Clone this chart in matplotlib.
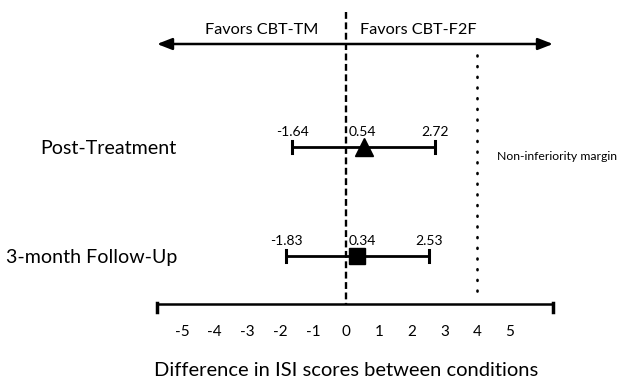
import matplotlib
matplotlib.use("Agg")
import matplotlib.pyplot as plt

# Data
rows = ["Post-Treatment", "3-month Follow-Up"]
means = [0.54, 0.34]
lower = [-1.64, -1.83]
upper = [2.72, 2.53]
markers = ["^", "s"]
ticks = [-5, -4, -3, -2, -1, 0, 1, 2, 3, 4, 5]
margin = 4
favor_labels = ["Favors CBT-TM", "Favors CBT-F2F"]
xlabel = "Difference in ISI scores between conditions"
margin_label = "Non-inferiority margin"

plt.rcParams['font.family'] = ['Lato', 'DejaVu Sans']

W, H = 628, 382
fig = plt.figure(figsize=(W / 100, H / 100), dpi=100)
ax = fig.add_axes([0, 0, 1, 1])
ppu = 32.8
x0 = 346
ax.set_xlim(-x0 / ppu, (W - x0) / ppu)
ax.set_ylim(H, 0)  # y in pixel-like units, top = 0
ax.axis("off")

row_y = [147, 256]
axis_y = 304
arrow_y = 44
xmin, xmax = (157 - x0) / ppu, (553 - x0) / ppu

# zero dashed line
ax.plot([0, 0], [12, axis_y], color="black", lw=1.7, ls=(0, (2.9, 1.5)))
# non-inferiority dotted line
ax.plot([margin, margin], [55, axis_y - 6], color="black", lw=1.9, ls=(0, (0.35, 3.7)),
        dash_capstyle="round")

# top double arrow
ax.annotate("", xy=(xmin, arrow_y), xytext=(xmax, arrow_y),
            arrowprops=dict(arrowstyle="<|-|>,head_length=0.9,head_width=0.35",
                            color="black", lw=1.8, shrinkA=0, shrinkB=0))
ax.text((262 - x0) / ppu, 37, favor_labels[0], ha="center", va="bottom", fontsize=11.7)
ax.text((418 - x0) / ppu, 37, favor_labels[1], ha="center", va="bottom", fontsize=11.7)

# bottom axis
ax.plot([xmin, xmax], [axis_y, axis_y], color="black", lw=1.8)
for xe in (xmin, xmax):
    ax.plot([xe, xe], [axis_y - 1, axis_y + 8], color="black", lw=2.5)
for t in ticks:
    ax.text(t, 332, str(t), ha="center", va="center", fontsize=11)
ax.text(0, 371, xlabel, ha="center", va="center", fontsize=14.5)

# rows
for y, m, lo, hi, mk, name in zip(row_y, means, lower, upper, markers, rows):
    ax.plot([lo, hi], [y, y], color="black", lw=2)
    for xe in (lo, hi):
        ax.plot([xe, xe], [y - 6, y + 6], color="black", lw=2.2)
    ax.plot([m], [y], marker=mk, color="black", ms=12.5 if mk == "^" else 11.5, ls="none")
    ax.text(lo, y - 9, f"{lo:.2f}", ha="center", va="bottom", fontsize=10)
    ax.text(0.07, y - 9, f"{m:.2f}", ha="left", va="bottom", fontsize=10)
    ax.text(hi, y - 9, f"{hi:.2f}", ha="center", va="bottom", fontsize=10)
    ax.annotate(name, xy=(177 / W, 1 - (y + 2) / H), xycoords="figure fraction",
                ha="right", va="center", fontsize=14.1)

ax.text((497 - x0) / ppu, 157, margin_label, ha="left", va="center", fontsize=8.8)

fig.savefig("out.png", dpi=100)
